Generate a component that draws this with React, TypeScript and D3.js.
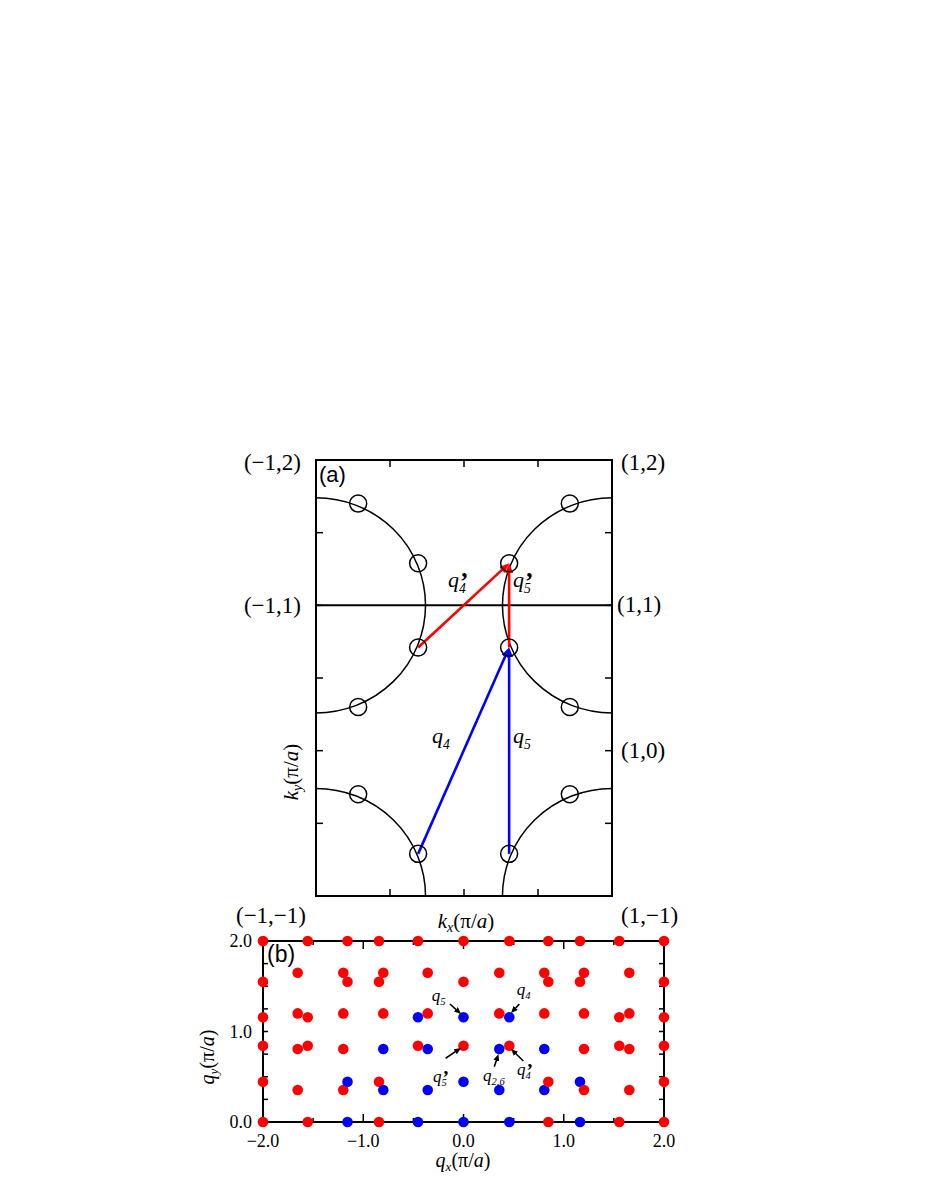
import React from 'react';
import * as d3 from 'd3';

const SERIF = '"Liberation Serif", "Times New Roman", serif';
const SANS = '"Liberation Sans", Arial, sans-serif';

// ---- panel (a): k-space, units of pi/a ----
const arcCentres: [number, number][] = [[-1, -1], [1, -1], [-1, 1], [1, 1]];
const arcRadius = 0.74;
const hotSpots: [number, number][] = [
  [-0.715, 1.7], [-0.31, 1.29], [-0.31, 0.71], [-0.715, 0.3], [-0.715, -0.3], [-0.31, -0.71],
  [0.715, 1.7], [0.305, 1.29], [0.305, 0.71], [0.715, 0.3], [0.715, -0.3], [0.305, -0.71],
];
const kVectors = [
  { sub: '4', prime: false, color: '#0000ff', from: [-0.31, -0.71], to: [0.305, 0.71], label: [-0.216, 0.05] },
  { sub: '5', prime: false, color: '#0000ff', from: [0.305, -0.71], to: [0.305, 0.71], label: [0.331, 0.05] },
  { sub: '4', prime: true, color: '#ff0000', from: [-0.31, 0.71], to: [0.305, 1.29], label: [-0.108, 1.125] },
  { sub: '5', prime: true, color: '#ff0000', from: [0.305, 0.71], to: [0.305, 1.29], label: [0.331, 1.125] },
];
const kxTicks = [-0.5, 0, 0.5];
const kyTicks = [-0.5, 0, 0.5, 1, 1.5];
const cornerLeft = [
  { text: '(−1,2)', ky: 2 }, { text: '(−1,1)', ky: 1 }, { text: '(−1,−1)', ky: -1 },
];
const cornerRight = [
  { text: '(1,2)', ky: 2 }, { text: '(1,1)', ky: 1 }, { text: '(1,0)', ky: 0 }, { text: '(1,−1)', ky: -1 },
];

// ---- panel (b): q-space peaks ----
const redPeaks: [number, number][] = [
  [-2, 2], [-1.554, 2], [-1.157, 2], [-0.843, 2], [-0.454, 2], [0, 2], [0.457, 2], [0.846, 2], [1.162, 2], [1.554, 2], [2, 2],
  [-1.654, 1.65], [-1.199, 1.65], [-0.8, 1.65], [-0.357, 1.65], [0.357, 1.65], [0.806, 1.65], [1.202, 1.65], [1.654, 1.65],
  [-2, 1.55], [-1.157, 1.55], [-0.843, 1.55], [0, 1.55], [0.846, 1.55], [1.162, 1.55], [2, 1.55],
  [-1.654, 1.2], [-1.199, 1.2], [-0.8, 1.2], [-0.357, 1.2], [0.357, 1.2], [0.806, 1.2], [1.202, 1.2], [1.654, 1.2],
  [-2, 1.157], [-1.554, 1.157], [1.554, 1.157], [2, 1.157],
  [-2, 0.843], [-1.554, 0.843], [-0.454, 0.843], [0, 0.843], [0.457, 0.843], [1.554, 0.843], [2, 0.843],
  [-1.654, 0.807], [-1.199, 0.807], [1.202, 0.807], [1.654, 0.807],
  [-2, 0.445], [-0.843, 0.445], [0.846, 0.445], [2, 0.445],
  [-1.654, 0.354], [-1.199, 0.354], [1.202, 0.354], [1.654, 0.354],
  [-2, 0], [-1.554, 0], [-0.843, 0], [0.846, 0], [1.554, 0], [2, 0],
];
const bluePeaks: [number, number][] = [
  [-0.454, 1.157], [0, 1.157], [0.457, 1.157],
  [-0.8, 0.807], [-0.357, 0.807], [0.357, 0.807], [0.806, 0.807],
  [-1.157, 0.445], [0, 0.445], [1.162, 0.445],
  [-0.8, 0.354], [-0.357, 0.354], [0.357, 0.354], [0.806, 0.354],
  [-1.157, 0], [-0.454, 0], [0, 0], [0.457, 0], [1.162, 0],
];
const peakNotes = [
  { sub: '5', prime: false, label: [-0.317, 1.337], from: [-0.135, 1.304], to: [-0.025, 1.193] },
  { sub: '4', prime: false, label: [0.531, 1.403], from: [0.557, 1.304], to: [0.474, 1.204] },
  { sub: '5', prime: true, label: [-0.304, 0.442], from: [-0.178, 0.704], to: [-0.025, 0.818] },
  { sub: '2,6', prime: false, label: [0.195, 0.453], from: [0.307, 0.611], to: [0.349, 0.751] },
  { sub: '4', prime: true, label: [0.534, 0.519], from: [0.597, 0.674], to: [0.474, 0.807] },
];
const qxTicks = [-1.5, -1, -0.5, 0, 0.5, 1, 1.5];
const qxLabels = [-2, -1, 0, 1, 2];
const qyTicks = [0.25, 0.5, 0.75, 1, 1.25, 1.5, 1.75];
const qyLabels = [0, 1, 2];

const fmt = (v: number) => d3.format('.1f')(v).replace('-', '−');

// italic q with subscript; an optional bold prime stacked over the subscript
const QLabel = ({ x, y, sub, prime, size }: { x: number; y: number; sub: string; prime: boolean; size: number }) => {
  const subSize = size * 0.62;
  const qW = size * 0.5;
  return (
    <g fontFamily={SERIF} fill="#000">
      <text x={x} y={y} fontStyle="italic" fontSize={size}>
        q
        <tspan fontSize={subSize} dy={size * 0.26}>{sub}</tspan>
      </text>
      {prime ? (
        <text x={x + qW + 1} y={y + size * 0.12} fontWeight="bold" fontSize={size * 1.15}>’</text>
      ) : null}
    </g>
  );
};

const Head = ({ id, color, w, h }: { id: string; color: string; w: number; h: number }) => (
  <marker id={id} viewBox={`0 0 ${w} ${h}`} refX={w} refY={h / 2} markerWidth={w} markerHeight={h}
    markerUnits="userSpaceOnUse" orient="auto">
    <path d={`M0,0L${w},${h / 2}L0,${h}Z`} fill={color} />
  </marker>
);

// pull a segment's end back so the stroke does not poke through the arrow tip
const pullBack = (x1: number, y1: number, x2: number, y2: number, d: number) => {
  const L = Math.hypot(x2 - x1, y2 - y1);
  return [x2 - ((x2 - x1) / L) * d, y2 - ((y2 - y1) / L) * d];
};

export default function App() {
  const xa = d3.scaleLinear().domain([-1, 1]).range([316, 612]);
  const ya = d3.scaleLinear().domain([-1, 2]).range([896, 460]);
  const xb = d3.scaleLinear().domain([-2, 2]).range([263, 664]);
  const yb = d3.scaleLinear().domain([0, 2]).range([1122, 941]);

  const peaks = [
    ...redPeaks.map(p => ({ p, c: '#ff0000' })),
    ...bluePeaks.map(p => ({ p, c: '#0000ff' })),
  ].sort((a, b) => a.p[0] - b.p[0]);

  const rx = xa(arcRadius) - xa(0);
  const ry = ya(0) - ya(arcRadius);

  return (
    <svg width={928} height={1201} style={{ position: 'absolute', left: 0, top: 0, background: '#fff' }}>
      <defs>
        <clipPath id="frameA">
          <rect x={xa(-1)} y={ya(2)} width={xa(1) - xa(-1)} height={ya(-1) - ya(2)} />
        </clipPath>
        <Head id="hRed" color="#ff0000" w={10} h={8} />
        <Head id="hBlue" color="#0000ff" w={10} h={8} />
        <Head id="hBlack" color="#000" w={7} h={6} />
      </defs>

      {/* ---------- panel (a) ---------- */}
      <g clipPath="url(#frameA)">
        {arcCentres.map(([cx, cy], i) => (
          <ellipse key={i} cx={xa(cx)} cy={ya(cy)} rx={rx} ry={ry} fill="none" stroke="#000" strokeWidth={1.5} />
        ))}
      </g>
      <line x1={xa(-1)} x2={xa(1)} y1={ya(1)} y2={ya(1)} stroke="#000" strokeWidth={2} />
      {kxTicks.map(t => (
        <g key={`kx${t}`} stroke="#000" strokeWidth={1.5}>
          <line x1={xa(t)} x2={xa(t)} y1={ya(-1)} y2={ya(-1) - 7} />
          <line x1={xa(t)} x2={xa(t)} y1={ya(2)} y2={ya(2) + 7} />
        </g>
      ))}
      {kyTicks.map(t => (
        <g key={`ky${t}`} stroke="#000" strokeWidth={1.5}>
          <line x1={xa(-1)} x2={xa(-1) + 7} y1={ya(t)} y2={ya(t)} />
          <line x1={xa(1)} x2={xa(1) - 7} y1={ya(t)} y2={ya(t)} />
        </g>
      ))}
      <rect x={xa(-1)} y={ya(2)} width={xa(1) - xa(-1)} height={ya(-1) - ya(2)} fill="none" stroke="#000" strokeWidth={2} />

      {kVectors.map((v, i) => {
        const x1 = xa(v.from[0]), y1 = ya(v.from[1]), x2 = xa(v.to[0]), y2 = ya(v.to[1]);
        const [ex, ey] = pullBack(x1, y1, x2, y2, 5);
        return (
          <g key={`v${i}`}>
            <line x1={x1} y1={y1} x2={ex} y2={ey} stroke={v.color} strokeWidth={2.6} />
            <path d={`M${ex},${ey}L${x2},${y2}`} stroke="none" fill="none"
              markerEnd={v.color === '#ff0000' ? 'url(#hRed)' : 'url(#hBlue)'} />
          </g>
        );
      })}
      {hotSpots.map(([kx, ky], i) => (
        <circle key={`h${i}`} cx={xa(kx)} cy={ya(ky)} r={8.5} fill="none" stroke="#000" strokeWidth={1.5} />
      ))}
      {kVectors.map((v, i) => (
        <QLabel key={`vl${i}`} x={xa(v.label[0])} y={ya(v.label[1])} sub={v.sub} prime={v.prime} size={22} />
      ))}

      <text x={319} y={482} fontFamily={SANS} fontSize={22}>(a)</text>
      {cornerLeft.map(c => (
        <text key={c.text} x={c.ky === -1 ? 306 : 301} y={c.ky === -1 ? 923 : ya(c.ky) + (c.ky === 2 ? 10 : 8)}
          textAnchor="end" fontFamily={SERIF} fontSize={23}>{c.text}</text>
      ))}
      {cornerRight.map(c => (
        <text key={c.text} x={c.ky === 1 ? 617 : 621} y={c.ky === -1 ? 923 : ya(c.ky) + (c.ky === 2 ? 10 : 7)}
          fontFamily={SERIF} fontSize={23}>{c.text}</text>
      ))}
      <text x={466} y={928} textAnchor="middle" fontFamily={SERIF} fontSize={21}>
        <tspan fontStyle="italic">k</tspan>
        <tspan fontStyle="italic" fontSize={14} dy={4}>x</tspan>
        <tspan dy={-4}>(π/</tspan>
        <tspan fontStyle="italic">a</tspan>)
      </text>
      <text transform="translate(298,772) rotate(-90)" textAnchor="middle" fontFamily={SERIF} fontSize={21}>
        <tspan fontStyle="italic">k</tspan>
        <tspan fontStyle="italic" fontSize={14} dy={4}>y</tspan>
        <tspan dy={-4}>(π/</tspan>
        <tspan fontStyle="italic">a</tspan>)
      </text>

      {/* ---------- panel (b) ---------- */}
      {qxTicks.map(t => {
        const len = Number.isInteger(t) ? 8 : 4;
        return (
          <g key={`qx${t}`} stroke="#000" strokeWidth={1.5}>
            <line x1={xb(t)} x2={xb(t)} y1={yb(0)} y2={yb(0) - len} />
            <line x1={xb(t)} x2={xb(t)} y1={yb(2)} y2={yb(2) + len} />
          </g>
        );
      })}
      {qyTicks.map(t => (
        <g key={`qy${t}`} stroke="#000" strokeWidth={1.5}>
          <line x1={xb(-2)} x2={xb(-2) + 5} y1={yb(t)} y2={yb(t)} />
          <line x1={xb(2)} x2={xb(2) - 5} y1={yb(t)} y2={yb(t)} />
        </g>
      ))}
      <rect x={xb(-2)} y={yb(2)} width={xb(2) - xb(-2)} height={yb(0) - yb(2)} fill="none" stroke="#000" strokeWidth={2} />
      {peaks.map((d, i) => (
        <circle key={`p${i}`} cx={xb(d.p[0])} cy={yb(d.p[1])} r={5.3} fill={d.c} />
      ))}
      {peakNotes.map((n, i) => {
        const x1 = xb(n.from[0]), y1 = yb(n.from[1]), x2 = xb(n.to[0]), y2 = yb(n.to[1]);
        const [ex, ey] = pullBack(x1, y1, x2, y2, 4);
        return (
          <g key={`n${i}`}>
            <line x1={x1} y1={y1} x2={ex} y2={ey} stroke="#000" strokeWidth={1.6} />
            <path d={`M${ex},${ey}L${x2},${y2}`} stroke="none" fill="none" markerEnd="url(#hBlack)" />
            <QLabel x={xb(n.label[0])} y={yb(n.label[1])} sub={n.sub} prime={n.prime} size={17} />
          </g>
        );
      })}

      <text x={267} y={962} fontFamily={SANS} fontSize={23}>(b)</text>
      {qxLabels.map(t => (
        <text key={`qxl${t}`} x={xb(t)} y={1147} textAnchor="middle" fontFamily={SERIF} fontSize={18}>{fmt(t)}</text>
      ))}
      {qyLabels.map(t => (
        <text key={`qyl${t}`} x={252} y={yb(t) + 6} textAnchor="end" fontFamily={SERIF} fontSize={18}>{fmt(t)}</text>
      ))}
      <text x={463} y={1167} textAnchor="middle" fontFamily={SERIF} fontSize={20}>
        <tspan fontStyle="italic">q</tspan>
        <tspan fontStyle="italic" fontSize={13} dy={4}>x</tspan>
        <tspan dy={-4}>(π/</tspan>
        <tspan fontStyle="italic">a</tspan>)
      </text>
      <text transform="translate(214,1057) rotate(-90)" textAnchor="middle" fontFamily={SERIF} fontSize={20}>
        <tspan fontStyle="italic">q</tspan>
        <tspan fontStyle="italic" fontSize={13} dy={4}>y</tspan>
        <tspan dy={-4}>(π/</tspan>
        <tspan fontStyle="italic">a</tspan>)
      </text>
    </svg>
  );
}
